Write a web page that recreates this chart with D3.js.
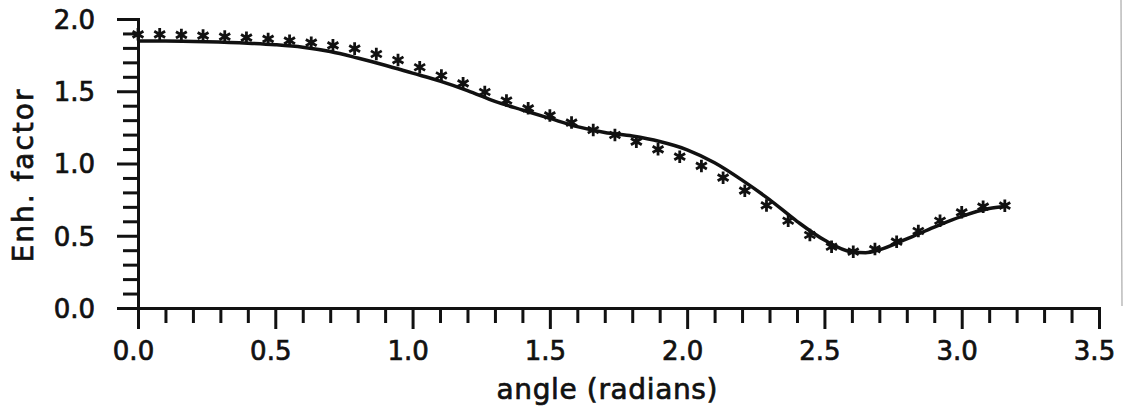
<!DOCTYPE html>
<html>
<head>
<meta charset="utf-8">
<script src="https://cdn.jsdelivr.net/npm/d3@7"></script>
<style>
  body { margin: 0; background: #fff; }
  svg { display: block; }
  text { font-family: "DejaVu Sans", sans-serif; fill: #111; stroke: #111; stroke-width: 0.7; }
  .axis path, .axis line { stroke: #111; stroke-width: 3; }
</style>
</head>
<body>
<svg id="svg" width="1128" height="408"></svg>
<script>
// measured points (asterisks)
var starX = [0, 0.079, 0.158, 0.237, 0.316, 0.395, 0.474, 0.552, 0.631, 0.710,
             0.789, 0.868, 0.947, 1.026, 1.105, 1.184, 1.263, 1.342, 1.421, 1.500,
             1.579, 1.658, 1.737, 1.815, 1.894, 1.973, 2.052, 2.131, 2.210, 2.289,
             2.368, 2.447, 2.526, 2.605, 2.684, 2.763, 2.842, 2.921, 3.000, 3.078, 3.157];
var starY = [1.894, 1.894, 1.890, 1.885, 1.878, 1.871, 1.862, 1.850, 1.836, 1.818,
             1.795, 1.758, 1.716, 1.666, 1.609, 1.555, 1.495, 1.436, 1.382, 1.333,
             1.283, 1.232, 1.197, 1.151, 1.098, 1.047, 0.983, 0.902, 0.812, 0.710,
             0.604, 0.505, 0.424, 0.390, 0.408, 0.459, 0.533, 0.604, 0.662, 0.701, 0.708];

// calculated curve (solid line)
var curveX = [0, 0.1, 0.25, 0.4, 0.5, 0.6, 0.7, 0.8, 0.9, 1.0, 1.1, 1.2, 1.3, 1.4, 1.5,
              1.6, 1.7, 1.8, 1.9, 2.0, 2.1, 2.2, 2.3, 2.4, 2.5, 2.6, 2.65, 2.7, 2.8,
              2.9, 3.0, 3.1, 3.157];
var curveY = [1.848, 1.848, 1.843, 1.833, 1.822, 1.805, 1.775, 1.730, 1.680, 1.625,
              1.570, 1.505, 1.430, 1.370, 1.312, 1.255, 1.215, 1.190, 1.152, 1.095,
              1.005, 0.885, 0.750, 0.600, 0.470, 0.388, 0.383, 0.403, 0.478, 0.560,
              0.634, 0.688, 0.702];

var xMajor = [0, 0.5, 1.0, 1.5, 2.0, 2.5, 3.0, 3.5];
var yMajor = [0, 0.5, 1.0, 1.5, 2.0];
var xLabel = "angle (radians)";
var yLabel = "Enh. factor";

var svg = d3.select("#svg");

var x = d3.scaleLinear().domain([0, 3.5]).range([138, 1099]);
var y = d3.scaleLinear().domain([0, 2]).range([308, 19]);

var xMinor = d3.range(1, 35).map(function(i) { return i / 10; })
    .filter(function(v) { return Math.round(v * 10) % 5 != 0; });
var yMinor = d3.range(1, 20).map(function(i) { return i / 10; })
    .filter(function(v) { return Math.round(v * 10) % 5 != 0; });

// minor ticks first, no labels
svg.append("g")
    .attr("class", "axis")
    .attr("transform", "translate(0,308)")
    .call(d3.axisBottom(x).tickValues(xMinor).tickSize(15).tickSizeOuter(0).tickFormat(""));

svg.append("g")
    .attr("class", "axis")
    .attr("transform", "translate(138,0)")
    .call(d3.axisLeft(y).tickValues(yMinor).tickSize(15).tickSizeOuter(0).tickFormat(""));

var xAxis = svg.append("g")
    .attr("class", "axis")
    .attr("transform", "translate(0,308)")
    .call(d3.axisBottom(x).tickValues(xMajor).tickSize(21).tickSizeOuter(0)
        .tickPadding(13).tickFormat(d3.format(".1f")));
xAxis.selectAll("text")
    .attr("font-size", 26)
    .attr("dx", -5);

var yAxis = svg.append("g")
    .attr("class", "axis")
    .attr("transform", "translate(138,0)")
    .call(d3.axisLeft(y).tickValues(yMajor).tickSize(21).tickSizeOuter(0)
        .tickPadding(22).tickFormat(d3.format(".1f")));
yAxis.selectAll("text")
    .attr("font-size", 26)
    .attr("dy", "0.36em");

svg.selectAll(".axis text").style("font-family", "DejaVu Sans, sans-serif").attr("fill", "#111");
svg.selectAll(".domain").attr("stroke-linecap", "square");

// axis titles
svg.append("text")
    .attr("x", 607)
    .attr("y", 399)
    .attr("text-anchor", "middle")
    .attr("font-size", 28)
    .attr("textLength", 221)
    .attr("lengthAdjust", "spacing")
    .text(xLabel);

svg.append("text")
    .attr("transform", "translate(33,176) rotate(-90)")
    .attr("text-anchor", "middle")
    .attr("font-size", 28)
    .attr("textLength", 173)
    .attr("lengthAdjust", "spacing")
    .text(yLabel);

// solid curve
var line = d3.line()
    .x(function(d) { return x(d[0]); })
    .y(function(d) { return y(d[1]); })
    .curve(d3.curveMonotoneX);

svg.append("path")
    .datum(d3.zip(curveX, curveY))
    .attr("d", line)
    .attr("fill", "none")
    .attr("stroke", "#111")
    .attr("stroke-width", 3.5);

// asterisks
var star = d3.symbol().type(d3.symbolAsterisk).size(110);
svg.selectAll(".star")
    .data(d3.zip(starX, starY))
    .enter().append("path")
    .attr("class", "star")
    .attr("d", star)
    .attr("transform", function(d) {
        return "translate(" + x(d[0]) + "," + y(d[1]) + ")";
    })
    .attr("fill", "none")
    .attr("stroke", "#111")
    .attr("stroke-width", 2.8);

// faint scan edge on the right
svg.append("line")
    .attr("x1", 1121).attr("x2", 1122)
    .attr("y1", 0).attr("y2", 306)
    .attr("stroke", "#999")
    .attr("stroke-width", 1);
</script>
</body>
</html>
